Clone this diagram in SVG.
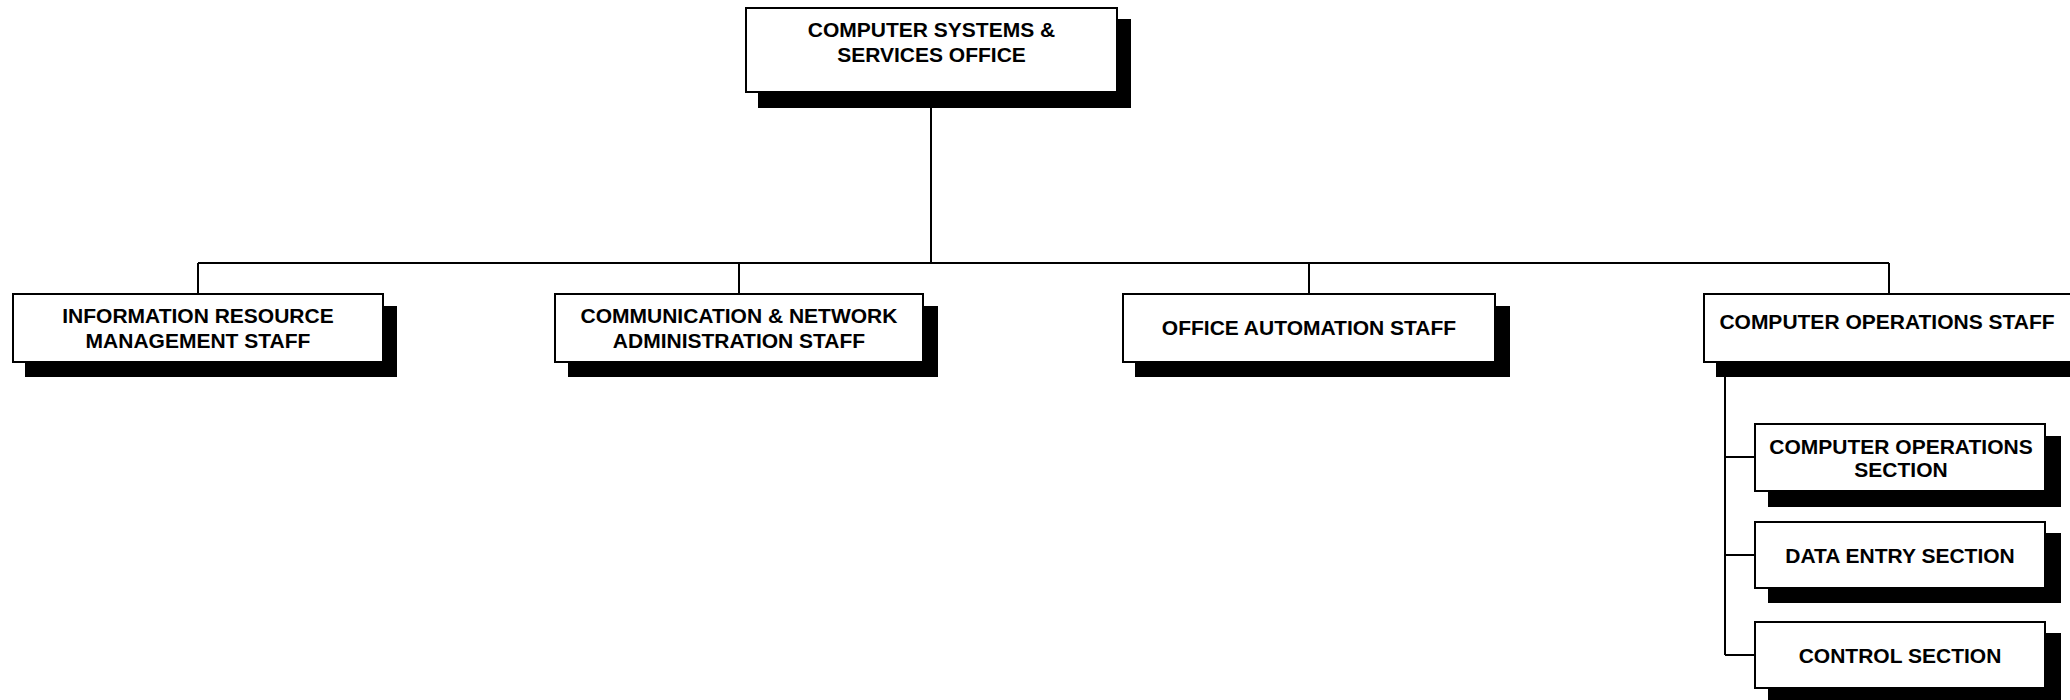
<svg xmlns="http://www.w3.org/2000/svg" width="2070" height="700" viewBox="0 0 2070 700">
<style>
.shadow{fill:#000;stroke:none}
.box{fill:#fff;stroke:#000;stroke-width:2}
.lbl{font-family:"Liberation Sans",Arial,sans-serif;font-weight:bold;font-size:21px;fill:#000;text-anchor:middle}
.conn{stroke:#000;stroke-width:2;fill:none}
</style>
<rect width="2070" height="700" fill="#fff"/>
<g id="connectors">
<line class="conn" x1="931" y1="92" x2="931" y2="263"/>
<line class="conn" x1="198" y1="263" x2="1889" y2="263"/>
<line class="conn" x1="198" y1="263" x2="198" y2="294"/>
<line class="conn" x1="739" y1="263" x2="739" y2="294"/>
<line class="conn" x1="1309" y1="263" x2="1309" y2="294"/>
<line class="conn" x1="1889" y1="263" x2="1889" y2="294"/>
<line class="conn" x1="1725" y1="362" x2="1725" y2="655"/>
<line class="conn" x1="1725" y1="457" x2="1755" y2="457"/>
<line class="conn" x1="1725" y1="555" x2="1755" y2="555"/>
<line class="conn" x1="1725" y1="655" x2="1755" y2="655"/>
</g>
<g id="node-cso">
<rect class="shadow" x="758" y="19" width="373" height="89"/>
<rect class="box" x="746" y="8" width="371" height="84"/>
<text class="lbl" x="931.5" y="37">COMPUTER SYSTEMS &amp;</text>
<text class="lbl" x="931.5" y="62">SERVICES OFFICE</text>
</g>
<g id="node-irm">
<rect class="shadow" x="25" y="306" width="372" height="71"/>
<rect class="box" x="13" y="294" width="370" height="68"/>
<text class="lbl" x="198" y="323">INFORMATION RESOURCE</text>
<text class="lbl" x="198" y="348">MANAGEMENT STAFF</text>
</g>
<g id="node-cna">
<rect class="shadow" x="568" y="306" width="370" height="71"/>
<rect class="box" x="555" y="294" width="368" height="68"/>
<text class="lbl" x="739" y="323">COMMUNICATION &amp; NETWORK</text>
<text class="lbl" x="739" y="348">ADMINISTRATION STAFF</text>
</g>
<g id="node-oa">
<rect class="shadow" x="1135" y="306" width="375" height="71"/>
<rect class="box" x="1123" y="294" width="372" height="68"/>
<text class="lbl" x="1309" y="335">OFFICE AUTOMATION STAFF</text>
</g>
<g id="node-cos">
<rect class="shadow" x="1716" y="306" width="372" height="71"/>
<rect class="box" x="1704" y="294" width="370" height="68"/>
<text class="lbl" x="1887" y="329">COMPUTER OPERATIONS STAFF</text>
</g>
<g id="node-cosec">
<rect class="shadow" x="1768" y="436" width="293" height="71"/>
<rect class="box" x="1755" y="424" width="290" height="67"/>
<text class="lbl" x="1901" y="454">COMPUTER OPERATIONS</text>
<text class="lbl" x="1901" y="477">SECTION</text>
</g>
<g id="node-des">
<rect class="shadow" x="1768" y="533" width="293" height="70"/>
<rect class="box" x="1755" y="522" width="290" height="66"/>
<text class="lbl" x="1900" y="563">DATA ENTRY SECTION</text>
</g>
<g id="node-cs">
<rect class="shadow" x="1768" y="633" width="293" height="70"/>
<rect class="box" x="1755" y="622" width="290" height="66"/>
<text class="lbl" x="1900" y="663">CONTROL SECTION</text>
</g>
</svg>
